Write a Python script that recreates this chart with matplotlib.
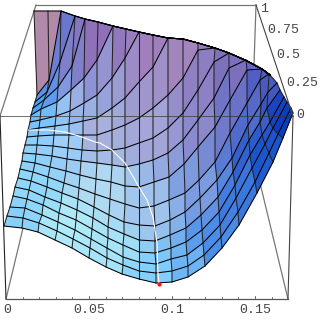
import numpy as np
import matplotlib
matplotlib.use('Agg')
import matplotlib.pyplot as plt
from matplotlib.collections import PolyCollection
from matplotlib.colors import to_rgb

# surface mesh: one list per column, bottom row first
col_x = [
    [4, 7, 10, 13, 15, 18, 20, 22, 23, 25, 27, 28, 30, 31, 33, 35, 37, 34],
    [22, 23, 25, 27, 29, 31, 33, 35, 36, 37, 38, 39, 40, 41, 44, 47, 49, 48],
    [38, 39, 42, 43, 45, 47, 48, 50, 52, 53, 54, 55, 56, 57, 58, 60, 61, 61],
    [55, 57, 58, 59, 61, 62, 64, 66, 67, 68, 69, 69, 70, 71, 72, 75, 75, 75],
    [72, 73, 75, 76, 77, 78, 79, 80, 81, 82, 83, 83, 84, 84, 85, 85, 85, 85],
    [89, 90, 91, 92, 93, 94, 95, 96, 97, 97, 97, 97, 97, 97, 98, 98, 98, 98],
    [106, 107, 107, 108, 108, 109, 110, 111, 112, 112, 112, 112, 112, 113, 113, 113, 113, 113],
    [122, 123, 123, 123, 124, 124, 125, 125, 125, 125, 125, 125, 125, 126, 126, 126, 126, 126],
    [139, 139, 139, 139, 139, 139, 139, 139, 139, 139, 139, 139, 139, 139, 139, 139, 139, 139],
    [156, 156, 156, 155, 155, 155, 154, 154, 153, 153, 153, 153, 153, 153, 153, 153, 153, 153],
    [172, 172, 171, 171, 170, 170, 169, 169, 168, 168, 168, 168, 168, 168, 168, 168, 168, 168],
    [188, 188, 187, 186, 186, 185, 185, 184, 183, 183, 183, 183, 183, 183, 183, 183, 183, 183],
    [205, 204, 203, 202, 201, 200, 199, 198, 198, 198, 198, 198, 198, 198, 198, 198, 198, 198],
    [222, 221, 220, 219, 218, 217, 215, 215, 214, 214, 215, 215, 215, 215, 215, 215, 215, 215],
    [239, 238, 236, 235, 233, 232, 230, 230, 229, 229, 229, 229, 229, 229, 229, 229, 229, 229],
    [257, 255, 252, 250, 249, 248, 247, 247, 246, 245, 245, 245, 245, 245, 245, 245, 245, 245],
    [273, 269, 265, 262, 260, 261, 260, 262, 262, 262, 262, 262, 262, 262, 262, 262, 262, 262],
    [283, 278, 273, 270, 267, 268, 269, 270, 270, 270, 270, 270, 270, 270, 270, 270, 270, 270],
    [293, 291, 287, 284, 280, 277, 270, 270, 270, 270, 270, 270, 270, 270, 270, 270, 270, 270],
]
col_y = [
    [226, 216, 207, 196, 187, 178, 169, 161, 153, 145, 137, 130, 122, 115, 108, 102, 95, 11],
    [228, 218, 208, 199, 190, 181, 172, 163, 154, 145, 136, 128, 120, 109, 100, 92, 80, 11],
    [232, 223, 215, 205, 197, 187, 177, 167, 156, 146, 135, 126, 116, 102, 87, 62, 11, 11],
    [240, 231, 222, 213, 203, 193, 183, 171, 159, 148, 135, 124, 111, 90, 66, 16, 16, 16],
    [248, 239, 230, 220, 210, 199, 188, 175, 161, 150, 135, 121, 103, 78, 19, 19, 19, 19],
    [258, 248, 239, 229, 218, 207, 194, 179, 163, 151, 135, 118, 95, 60, 22, 22, 22, 22],
    [267, 258, 248, 238, 227, 215, 199, 182, 165, 150, 130, 108, 78, 26, 26, 26, 26, 26],
    [274, 265, 257, 245, 234, 222, 204, 186, 167, 148, 125, 98, 58, 29, 29, 29, 29, 29],
    [279, 271, 262, 252, 240, 225, 208, 187, 164, 143, 118, 82, 32, 32, 32, 32, 32, 32],
    [283, 273, 264, 253, 241, 226, 206, 182, 160, 138, 108, 67, 35, 35, 35, 35, 35, 35],
    [282, 271, 259, 248, 235, 220, 200, 177, 153, 128, 95, 38, 38, 38, 38, 38, 38, 38],
    [277, 266, 255, 242, 228, 212, 193, 164, 140, 113, 78, 39, 39, 39, 39, 39, 39, 39],
    [266, 255, 243, 230, 215, 198, 180, 147, 120, 90, 50, 43, 43, 43, 43, 43, 43, 43],
    [248, 237, 225, 212, 197, 180, 162, 127, 98, 62, 48, 48, 48, 48, 48, 48, 48, 48],
    [225, 212, 198, 185, 172, 158, 133, 100, 68, 53, 53, 53, 53, 53, 53, 53, 53, 53],
    [193, 182, 168, 155, 140, 125, 103, 70, 60, 60, 60, 60, 60, 60, 60, 60, 60, 60],
    [162, 153, 144, 135, 122, 104, 80, 69, 69, 69, 69, 69, 69, 69, 69, 69, 69, 69],
    [138, 134, 128, 122, 108, 92, 74, 75, 75, 75, 75, 75, 75, 75, 75, 75, 75, 75],
    [113, 108, 102, 97, 90, 83, 75, 75, 75, 75, 75, 75, 75, 75, 75, 75, 75, 75],
]

# white curve and the red point at its end
curve_x = [28, 48, 65, 82, 95, 100, 112, 125, 135, 139, 147, 153, 157, 158, 159]
curve_y = [130, 130, 132, 137, 142, 143, 150, 163, 180, 187, 200, 217, 243, 273, 283]
point_x = [159]
point_y = [284]

x_ticks = [0, 0.05, 0.1, 0.15]
x_tick_labels = ['0', '0.05', '0.1', '0.15']
x_minor = [0.01, 0.02, 0.03, 0.04, 0.06, 0.07, 0.08, 0.09, 0.11, 0.12, 0.13, 0.14, 0.16]
z_ticks = [0, 0.25, 0.5, 0.75, 1]
z_tick_labels = ['0', '0.25', '0.5', '0.75', '1']

# colours seen on the surface, blended over the cells
shade_x = [10, 30, 70, 110, 150, 190, 215, 240, 265, 285, 40, 50, 55, 75, 100, 150, 180, 230, 265, 280, 100, 60, 30, 150, 200, 250, 150, 100, 200,
           60, 45, 80, 60, 80, 110, 150, 200, 240]
shade_y = [215, 190, 225, 250, 275, 265, 240, 200, 150, 120, 105, 90, 45, 60, 40, 55, 55, 70, 90, 105, 130, 140, 150, 130, 120, 120, 210, 190, 190,
           110, 120, 100, 85, 80, 80, 90, 80, 100]
shade_c = ['#86d0fb', '#8fd8fb', '#aeeaf8', '#a8e4f8', '#84d0fb', '#6eb4f4', '#4a8ce8', '#3a78e0', '#1a55cc', '#0a3ec0',
           '#44a4f8', '#5a8ee8', '#5d72d0', '#8080c8', '#9070b8', '#a07fbc', '#a285bc', '#7d70bc', '#4a5bc0', '#1a44c0',
           '#a8b0dc', '#9ccffa', '#8fd0fb', '#a4a6d8', '#8b88cc', '#4f6bcc', '#a0c4ec', '#b0daf2', '#7c9cdf',
           '#94c4f4', '#7cc4fb', '#9cb0e4', '#7f98e0', '#8a90d4', '#9a9cd4', '#a095cc', '#8f80c4', '#6a72c8']
wall_color = '#b08aa8'


def x_pos(v):
    return 6 + v * 1660


def z_pos(v):
    return 293 - v * 37, 116 - v * 111


def cell_color(cx, cy):
    d = (np.array(shade_x) - cx) ** 2 + (np.array(shade_y) - cy) ** 2 + 1.0
    w = 1.0 / d ** 2
    rgb = np.array([to_rgb(c) for c in shade_c])
    return tuple((rgb * w[:, None]).sum(axis=0) / w.sum())


fig = plt.figure(figsize=(3.2, 3.2), dpi=100)
ax = fig.add_axes([0, 0, 1, 1])
ax.set_xlim(0, 320)
ax.set_ylim(320, 0)
ax.axis('off')

X = np.array(col_x, dtype=float)
Y = np.array(col_y, dtype=float)
n_cols, n_rows = X.shape

# back edges of the box, under the surface
box_color = '#777777'
ax.plot([36, 256], [5, 5], color=box_color, lw=0.9, zorder=1)
ax.plot([36, 0], [5, 116], color=box_color, lw=0.9, zorder=1)
ax.plot([256, 254], [5, 65], color=box_color, lw=0.9, zorder=1)
ax.plot([6, 23], [299, 228], color=box_color, lw=0.9, zorder=1)
ax.plot([288, 260], [299, 183], color=box_color, lw=0.9, zorder=1)

polys = []
colors = []
for i in range(n_cols - 1):
    for j in range(n_rows - 1):
        quad = [(X[i, j], Y[i, j]), (X[i + 1, j], Y[i + 1, j]),
                (X[i + 1, j + 1], Y[i + 1, j + 1]), (X[i, j + 1], Y[i, j + 1])]
        polys.append(quad)
        if j == n_rows - 2 and i < 2:
            colors.append(to_rgb(wall_color))
        else:
            q = np.array(quad)
            colors.append(cell_color(q[:, 0].mean(), q[:, 1].mean()))
ax.add_collection(PolyCollection(polys, facecolors=colors, edgecolors=colors, linewidths=0.3, zorder=2))

# mesh lines
for i in range(n_cols):
    ax.plot(X[i], Y[i], color='#222222', lw=0.75, zorder=3)
for j in range(n_rows):
    ax.plot(X[:, j], Y[:, j], color='#000000', lw=0.75, zorder=3)

ax.plot(curve_x, curve_y, color='white', lw=0.8, zorder=4)
ax.plot(point_x, point_y, 'o', color='#ff1010', ms=3, mew=0, zorder=5)

# front edges of the box
ax.plot([0, 293], [116, 116], color='#333333', lw=0.7, alpha=0.7, zorder=4)
ax.plot([0, 6], [116, 299], color='#222222', lw=0.8, zorder=4)
ax.plot([293, 288], [116, 299], color='#444444', lw=0.8, zorder=4)
ax.plot([6, 288], [299, 299], color='#555555', lw=0.9, zorder=4)
ax.plot(*zip(z_pos(0), z_pos(1)), color='#444444', lw=0.8, zorder=4)

# bottom axis
for v in x_ticks:
    ax.plot([x_pos(v), x_pos(v)], [299, 296], color='#555555', lw=0.6, zorder=4)
for v in x_minor:
    ax.plot([x_pos(v), x_pos(v)], [299, 297], color='#555555', lw=0.6, zorder=4)
for v, s in zip(x_ticks, x_tick_labels):
    ax.text(x_pos(v) + (1 if v == 0 else 0), 310, s, ha='center', va='center', family='Liberation Mono', fontsize=9.5, color='#444444')

# height axis
z_label_x = [300, 302, 288, 283, 264]
z_label_y = [115, 83, 55, 30, 9]
for s, lx, ly in zip(z_tick_labels, z_label_x, z_label_y):
    ax.text(lx, ly, s, ha='center', va='center', family='Liberation Mono', fontsize=9.5, color='#444444')

fig.savefig('out.png', dpi=100)
